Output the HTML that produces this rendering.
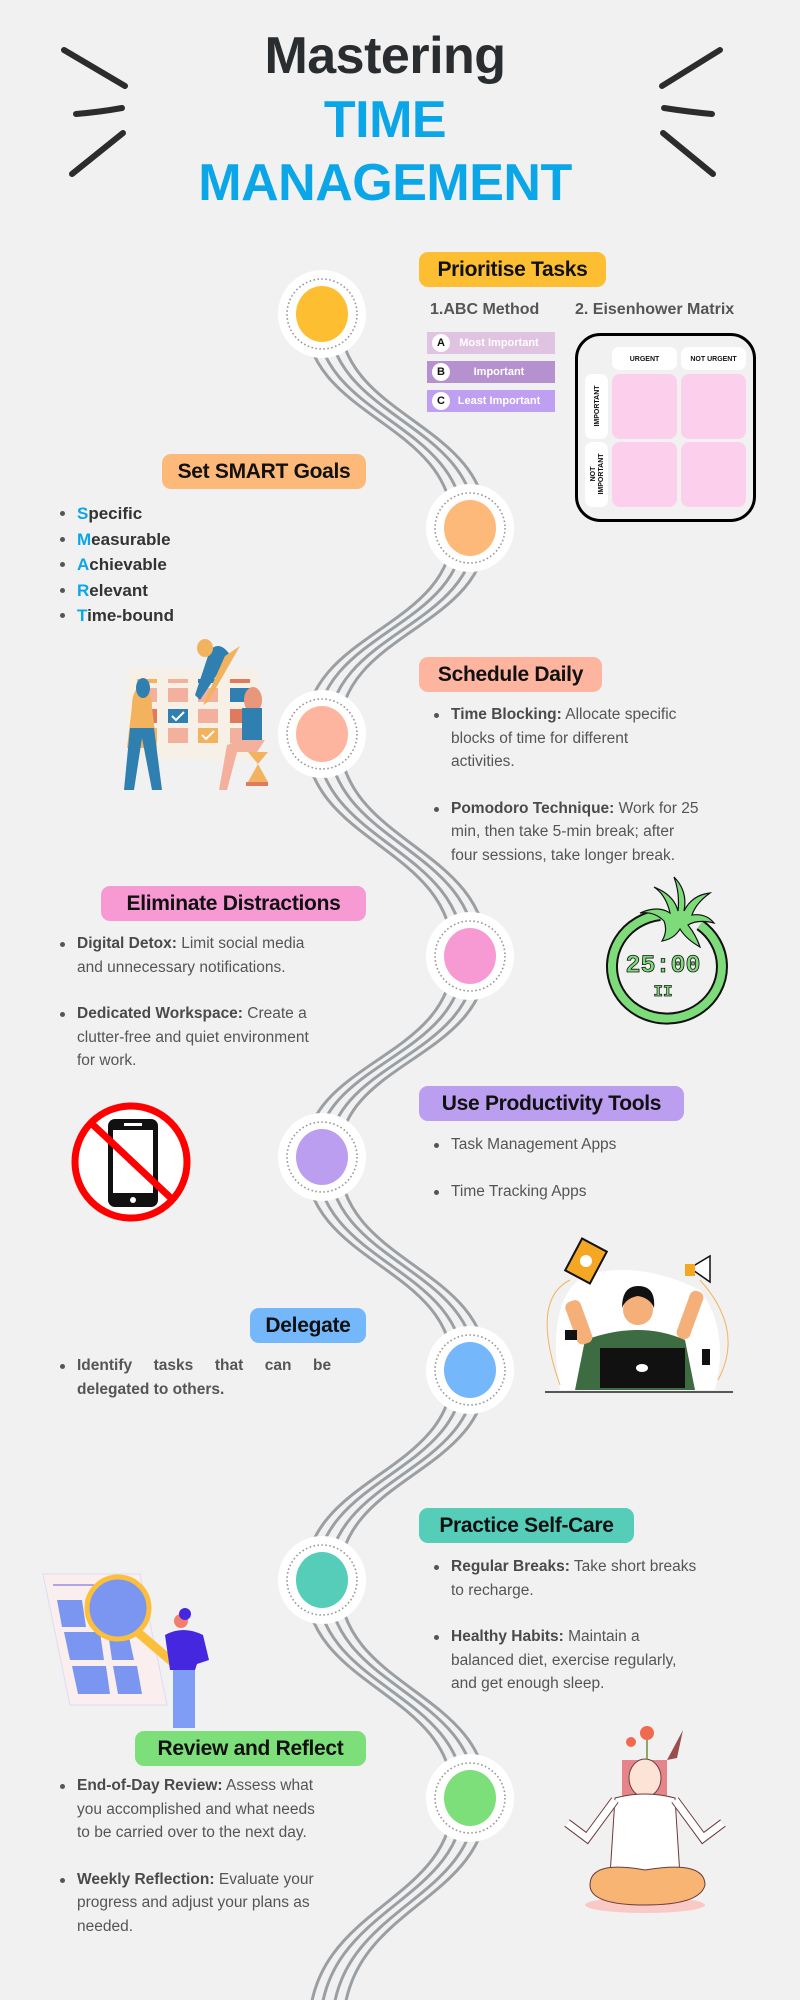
<!DOCTYPE html>
<html><head><meta charset="utf-8">
<style>
*{margin:0;padding:0;box-sizing:border-box}
body{width:800px;height:2000px;background:#f1f1f1;position:relative;overflow:hidden;font-family:"Liberation Sans",sans-serif}
.abs{position:absolute}
.title{position:absolute;left:0;width:770px;text-align:center;font-weight:bold;font-size:52px;line-height:52px;letter-spacing:-0.5px}
.pill{position:absolute;height:35px;border-radius:9px;font-weight:bold;font-size:21px;color:#111;display:flex;align-items:center;justify-content:center;white-space:nowrap;letter-spacing:-0.3px}
.txt{position:absolute;font-size:15.5px;line-height:23.5px;color:#555}
.txt b{color:#4a4a4a}
.li{position:relative;padding-left:17px}
.li:before{content:"";position:absolute;left:0;top:10px;width:5px;height:5px;border-radius:50%;background:#555}
.smart{position:absolute;left:60px;font-size:17px;line-height:25.5px;color:#333;font-weight:bold}
.smart span{color:#0aa6e8}
.bar{position:absolute;left:427px;width:128px;height:22px;color:#fff;font-weight:bold;font-size:11px;display:flex;align-items:center;justify-content:center;padding-left:16px}
.bar i{position:absolute;left:5px;top:2px;width:18px;height:18px;border-radius:50%;background:#fff;color:#111;font-style:normal;font-size:11px;display:flex;align-items:center;justify-content:center}
</style></head><body>

<svg class="abs" style="left:0;top:0" width="800" height="2000">
 <g stroke="#2c2c2c" stroke-linecap="round" fill="none">
  <path d="M64,50 L125,86" stroke-width="6"/>
  <path d="M76,114 Q100,112 122,108" stroke-width="6"/>
  <path d="M72,174 L123,133" stroke-width="6"/>
  <path d="M720,50 L662,86" stroke-width="6"/>
  <path d="M664,108 Q690,112 712,114" stroke-width="6"/>
  <path d="M663,133 L713,174" stroke-width="6"/>
 </g>
 <g fill="none" stroke="#9a9fa4" stroke-width="3">
  <path id="road" d="M322,314 C322,420 470,420 470,528 C470,630 322,630 322,734 C322,845 470,845 470,956 C470,1060 322,1060 322,1157 C322,1265 470,1265 470,1370 C470,1475 322,1475 322,1580 C322,1690 470,1690 470,1798 C470,1905 326,1905 326,2030" transform="translate(-17,0)"/>
  <use href="#road" transform="translate(11,0)"/>
  <use href="#road" transform="translate(23,0)"/>
  <use href="#road" transform="translate(34,0)"/>
 </g>
 <g>
  <g transform="translate(322,314)"><circle r="44" fill="#fff"/><circle r="35" fill="none" stroke="#999" stroke-width="1.6" stroke-dasharray="1.6 2.4"/><ellipse rx="26" ry="28" fill="#fdbf31"/></g>
  <g transform="translate(470,528)"><circle r="44" fill="#fff"/><circle r="35" fill="none" stroke="#999" stroke-width="1.6" stroke-dasharray="1.6 2.4"/><ellipse rx="26" ry="28" fill="#fdb97a"/></g>
  <g transform="translate(322,734)"><circle r="44" fill="#fff"/><circle r="35" fill="none" stroke="#999" stroke-width="1.6" stroke-dasharray="1.6 2.4"/><ellipse rx="26" ry="28" fill="#fdb59f"/></g>
  <g transform="translate(470,956)"><circle r="44" fill="#fff"/><circle r="35" fill="none" stroke="#999" stroke-width="1.6" stroke-dasharray="1.6 2.4"/><ellipse rx="26" ry="28" fill="#f79ad3"/></g>
  <g transform="translate(322,1157)"><circle r="44" fill="#fff"/><circle r="35" fill="none" stroke="#999" stroke-width="1.6" stroke-dasharray="1.6 2.4"/><ellipse rx="26" ry="28" fill="#bc9ef0"/></g>
  <g transform="translate(470,1370)"><circle r="44" fill="#fff"/><circle r="35" fill="none" stroke="#999" stroke-width="1.6" stroke-dasharray="1.6 2.4"/><ellipse rx="26" ry="28" fill="#74b7fa"/></g>
  <g transform="translate(322,1580)"><circle r="44" fill="#fff"/><circle r="35" fill="none" stroke="#999" stroke-width="1.6" stroke-dasharray="1.6 2.4"/><ellipse rx="26" ry="28" fill="#55cdb9"/></g>
  <g transform="translate(470,1798)"><circle r="44" fill="#fff"/><circle r="35" fill="none" stroke="#999" stroke-width="1.6" stroke-dasharray="1.6 2.4"/><ellipse rx="26" ry="28" fill="#7ddf7a"/></g>
 </g>

 <!-- Eisenhower matrix -->
 <rect x="576.5" y="334.5" width="178" height="186" rx="24" fill="none" stroke="#000" stroke-width="3"/>
 <rect x="612" y="347" width="65" height="23" rx="7" fill="#fff"/>
 <rect x="681" y="347" width="65" height="23" rx="7" fill="#fff"/>
 <rect x="585" y="374" width="23" height="65" rx="7" fill="#fff"/>
 <rect x="585" y="442" width="23" height="65" rx="7" fill="#fff"/>
 <rect x="612" y="374" width="65" height="65" rx="8" fill="#fcd0ec"/>
 <rect x="681" y="374" width="65" height="65" rx="8" fill="#fcd0ec"/>
 <rect x="612" y="442" width="65" height="65" rx="8" fill="#fcd0ec"/>
 <rect x="681" y="442" width="65" height="65" rx="8" fill="#fcd0ec"/>
 <g font-family="Liberation Sans" font-weight="bold" font-size="7" fill="#111" text-anchor="middle">
  <text x="644.5" y="361">URGENT</text>
  <text x="713.5" y="361">NOT URGENT</text>
  <text transform="translate(599,406) rotate(-90)">IMPORTANT</text>
  <text transform="translate(595,474) rotate(-90)">NOT</text>
  <text transform="translate(603,474) rotate(-90)">IMPORTANT</text>
 </g>

 <!-- calendar illustration -->
 <rect x="127" y="670" width="131" height="90" fill="#f7f0e6"/>
 <g fill="#f3b09c">
  <rect x="137" y="679" width="20" height="4" fill="#f3b35e"/><rect x="168" y="679" width="20" height="4"/><rect x="198" y="679" width="20" height="4" fill="#2f7fb0"/><rect x="230" y="679" width="20" height="4" fill="#e07a5f"/>
  <rect x="137" y="688" width="20" height="14"/><rect x="168" y="688" width="20" height="14"/><rect x="198" y="688" width="20" height="14"/><rect x="230" y="688" width="20" height="14" fill="#2f7fb0"/>
  <rect x="137" y="709" width="20" height="14" fill="#e07a5f"/><rect x="168" y="709" width="20" height="14" fill="#2f7fb0"/><rect x="198" y="709" width="20" height="14"/><rect x="230" y="709" width="20" height="14" fill="#e07a5f"/>
  <rect x="137" y="728" width="20" height="15" fill="#f3b35e"/><rect x="168" y="728" width="20" height="15"/><rect x="198" y="728" width="20" height="15" fill="#f3b35e"/><rect x="230" y="728" width="20" height="15"/>
 </g>
 <path d="M172,716 l4,4 l8,-8" stroke="#fff" stroke-width="2" fill="none"/>
 <path d="M202,735 l4,4 l8,-8" stroke="#fff" stroke-width="2" fill="none"/>
 <path d="M140,686 q-8,5 -8,20 l-5,42 h30 l-5,-40 q0,-22 -12,-22z" fill="#f3b35e"/>
 <ellipse cx="143" cy="688" rx="7" ry="10" fill="#2f7fb0"/>
 <path d="M130,728 l-6,62 h10 l8,-52 l10,52 h10 l-8,-62z" fill="#2f7fb0"/>
 <path d="M210,650 q10,-10 20,5 l-30,45 l-5,-5z" fill="#2f7fb0"/>
 <ellipse cx="205" cy="648" rx="8" ry="9" fill="#f3b35e"/>
 <path d="M225,656 l15,-10 l-32,56 l-5,3 z" fill="#f3b35e"/>
 <ellipse cx="253" cy="700" rx="9" ry="13" fill="#e9967a"/>
 <path d="M242,708 h20 v35 h-20z" fill="#2f7fb0"/>
 <path d="M240,740 h25 l-8,12 l-20,0 l-10,38 h-8 l8,-45z" fill="#f3b09c"/>
 <path d="M248,752 h20 l-10,12 l10,18 h-20 l10,-18z" fill="#f3b35e"/>
 <rect x="246" y="782" width="22" height="4" fill="#e07a5f"/>

 <!-- tomato timer -->
 <path d="M660,915 A55,52 0 1 0 700,925" fill="none" stroke="#111" stroke-width="12"/>
 <path d="M660,915 A55,52 0 1 0 700,925" fill="none" stroke="#7edb7a" stroke-width="8"/>
 <path d="M664,921 q-10,-10 -24,-8 q18,-8 30,0 q-4,-18 -16,-26 q20,8 24,24 q2,-18 -4,-34 q14,14 10,34 q8,-16 26,-18 q-14,10 -18,22 q14,-2 22,8 q-16,-4 -26,2 q8,10 12,22 q-14,-8 -20,-18 q-6,10 -18,12 q6,-10 2,-20z" fill="#7edb7a" stroke="#111" stroke-width="1.2"/>
 <text x="663" y="972" text-anchor="middle" font-family="Liberation Mono" font-weight="bold" font-size="25" fill="#7edb7a" stroke="#111" stroke-width="0.8">25:00</text>
 <text x="663" y="996" text-anchor="middle" font-family="Liberation Mono" font-weight="bold" font-size="16" fill="#7edb7a" stroke="#111" stroke-width="0.7">II</text>

 <!-- no phone -->
 <circle cx="131" cy="1162" r="56" fill="#fff" stroke="#f00" stroke-width="7"/>
 <rect x="108" y="1119" width="50" height="88" rx="7" fill="#111"/>
 <rect x="113" y="1130" width="40" height="63" fill="#fff"/>
 <rect x="124" y="1123" width="18" height="3" fill="#fff"/>
 <circle cx="133" cy="1200" r="3" fill="#fff"/>
 <line x1="90" y1="1122" x2="173" y2="1200" stroke="#f00" stroke-width="7"/>

 <!-- multitask person -->
 <path d="M560,1390 Q545,1300 585,1275 Q640,1260 700,1290 Q730,1330 715,1390z" fill="#fff"/>
 <path d="M560,1385 Q530,1300 570,1280 M700,1280 Q745,1330 718,1380" fill="none" stroke="#f3b35e" stroke-width="1"/>
 <path d="M585,1340 q55,-20 100,0 l10,50 h-120z" fill="#3d6b42"/>
 <rect x="570" y="1300" width="16" height="45" rx="6" fill="#f5b07a" transform="rotate(-20 578 1320)"/>
 <rect x="683" y="1290" width="14" height="50" rx="6" fill="#f5b07a" transform="rotate(20 690 1315)"/>
 <rect x="572" y="1243" width="28" height="36" fill="#f5a623" stroke="#111" stroke-width="2" transform="rotate(28 586 1261)"/>
 <circle cx="586" cy="1261" r="6" fill="#fff"/>
 <path d="M690,1268 l20,-12 v26z" fill="#fff" stroke="#111" stroke-width="1.5"/>
 <rect x="685" y="1264" width="10" height="12" fill="#f5a623"/>
 <circle cx="638" cy="1310" r="15" fill="#f5b07a"/>
 <path d="M622,1308 q0,-22 16,-22 q18,0 16,22 q-4,-10 -16,-12 q-12,2 -16,12z" fill="#111"/>
 <path d="M565,1330 h12 v10 h-12z" fill="#111"/>
 <rect x="600" y="1348" width="85" height="40" fill="#111"/>
 <ellipse cx="642" cy="1368" rx="6" ry="4" fill="#fff"/>
 <rect x="702" y="1349" width="8" height="16" fill="#111"/>
 <line x1="545" y1="1392" x2="733" y2="1392" stroke="#222" stroke-width="1.5"/>

 <!-- magnifier illustration -->
 <path d="M43,1574 L140,1574 L167,1705 L70,1705z" fill="#fbeeee" stroke="#dcdcf5"/>
 <line x1="53" y1="1585" x2="95" y2="1585" stroke="#6a5ae0" stroke-width="1"/>
 <g fill="#7b96f0">
  <path d="M57,1600 L82,1600 L86,1627 L62,1627z"/><path d="M90,1600 L118,1600 L122,1627 L94,1627z"/>
  <path d="M64,1632 L100,1632 L104,1660 L70,1660z"/><path d="M108,1632 L128,1632 L134,1660 L112,1660z"/>
  <path d="M72,1666 L106,1666 L110,1694 L78,1694z"/><path d="M113,1666 L137,1666 L142,1694 L118,1694z"/>
 </g>
 <line x1="135" y1="1630" x2="190" y2="1677" stroke="#fbbf3b" stroke-width="9" stroke-linecap="round"/>
 <circle cx="118" cy="1608" r="31" fill="#7b96f0" stroke="#fbbf3b" stroke-width="5"/>
 <rect x="173" y="1662" width="22" height="66" fill="#7f9df5"/>
 <path d="M165,1635 q18,-10 38,0 l6,25 l-12,4 l-2,6 h-25z" fill="#4527e0"/>
 <circle cx="181" cy="1621" r="7" fill="#f47e6e"/>
 <circle cx="185" cy="1614" r="6" fill="#4527e0"/>

 <!-- meditation -->
 <ellipse cx="645" cy="1905" rx="60" ry="8" fill="#f9c9c6"/>
 <path d="M622,1760 h45 v78 h-12 v-40 h-22 v40 h-11z" fill="#e6848a"/>
 <ellipse cx="645" cy="1778" rx="16" ry="19" fill="#fde3d5" stroke="#6b3b3b" stroke-width="1"/>
 <path d="M615,1798 q30,-8 60,0 l5,78 h-70z" fill="#fff" stroke="#6b3b3b" stroke-width="1"/>
 <path d="M615,1800 l-28,38 l-20,-15 M675,1800 l28,38 l20,-15" fill="none" stroke="#6b3b3b" stroke-width="9"/>
 <path d="M615,1800 l-28,38 l-20,-15 M675,1800 l28,38 l20,-15" fill="none" stroke="#fff" stroke-width="7"/>
 <path d="M590,1885 q0,-25 55,-15 q60,-10 60,15 q-5,20 -60,20 q-55,0 -55,-20z" fill="#f7b473" stroke="#6b3b3b" stroke-width="1"/>
 <line x1="647" y1="1760" x2="647" y2="1735" stroke="#6a8f3a" stroke-width="1.5"/>
 <circle cx="647" cy="1733" r="7" fill="#f06a50"/>
 <circle cx="631" cy="1742" r="5" fill="#f06a50"/>
 <path d="M667,1760 l16,-30 l-6,28z" fill="#9b4d4d"/>
</svg>

<div class="title" style="top:30px;color:#2a2d30">Mastering</div>
<div class="title" style="top:94px;color:#0aa6e8">TIME</div>
<div class="title" style="top:157px;color:#0aa6e8">MANAGEMENT</div>

<div class="pill" style="left:419px;top:252px;width:187px;background:#fdbf31">Prioritise Tasks</div>
<div class="abs" style="left:430px;top:301px;font-size:16px;color:#555;font-weight:bold">1.ABC Method</div>
<div class="abs" style="left:575px;top:301px;font-size:16px;color:#555;font-weight:bold">2. Eisenhower Matrix</div>
<div class="bar" style="top:332px;background:#e0c3e0"><i>A</i>Most Important</div>
<div class="bar" style="top:361px;background:#b591cf"><i>B</i>Important</div>
<div class="bar" style="top:390px;background:#bf9ff2"><i>C</i>Least Important</div>

<div class="pill" style="left:162px;top:454px;width:204px;background:#fdb97a">Set SMART Goals</div>
<div class="smart" style="top:501px">
 <div class="li"><span>S</span>pecific</div>
 <div class="li"><span>M</span>easurable</div>
 <div class="li"><span>A</span>chievable</div>
 <div class="li"><span>R</span>elevant</div>
 <div class="li"><span>T</span>ime-bound</div>
</div>

<div class="pill" style="left:419px;top:657px;width:183px;background:#fdb59f">Schedule Daily</div>
<div class="txt" style="left:434px;top:703px;width:320px">
 <div class="li"><b>Time Blocking:</b> Allocate specific<br>blocks of time for different<br>activities.</div>
 <div class="li" style="margin-top:23px"><b>Pomodoro Technique:</b> Work for 25<br>min, then take 5-min break; after<br>four sessions, take longer break.</div>
</div>

<div class="pill" style="left:101px;top:886px;width:265px;background:#f79ad3">Eliminate Distractions</div>
<div class="txt" style="left:60px;top:932px;width:320px">
 <div class="li"><b>Digital Detox:</b> Limit social media<br>and unnecessary notifications.</div>
 <div class="li" style="margin-top:23px"><b>Dedicated Workspace:</b> Create a<br>clutter-free and quiet environment<br>for work.</div>
</div>

<div class="pill" style="left:419px;top:1086px;width:265px;background:#bc9ef0">Use Productivity Tools</div>
<div class="txt" style="left:434px;top:1133px;width:320px">
 <div class="li">Task Management Apps</div>
 <div class="li" style="margin-top:23px">Time Tracking Apps</div>
</div>

<div class="pill" style="left:250px;top:1308px;width:116px;background:#74b7fa">Delegate</div>
<div class="txt" style="left:60px;top:1354px;width:306px">
 <div class="li" style="text-align:justify;text-align-last:left"><b style="font-weight:bold;color:#555">Identify&nbsp;&nbsp;&nbsp;&nbsp;&nbsp;tasks&nbsp;&nbsp;&nbsp;&nbsp;&nbsp;that&nbsp;&nbsp;&nbsp;&nbsp;&nbsp;can&nbsp;&nbsp;&nbsp;&nbsp;&nbsp;be<br>delegated to others.</b></div>
</div>

<div class="pill" style="left:419px;top:1508px;width:215px;background:#55cdb9">Practice Self-Care</div>
<div class="txt" style="left:434px;top:1555px;width:320px">
 <div class="li"><b>Regular Breaks:</b> Take short breaks<br>to recharge.</div>
 <div class="li" style="margin-top:23px"><b>Healthy Habits:</b> Maintain a<br>balanced diet, exercise regularly,<br>and get enough sleep.</div>
</div>

<div class="pill" style="left:135px;top:1731px;width:231px;background:#7ddf7a">Review and Reflect</div>
<div class="txt" style="left:60px;top:1774px;width:320px">
 <div class="li"><b>End-of-Day Review:</b> Assess what<br>you accomplished and what needs<br>to be carried over to the next day.</div>
 <div class="li" style="margin-top:23px"><b>Weekly Reflection:</b> Evaluate your<br>progress and adjust your plans as<br>needed.</div>
</div>
</body></html>
